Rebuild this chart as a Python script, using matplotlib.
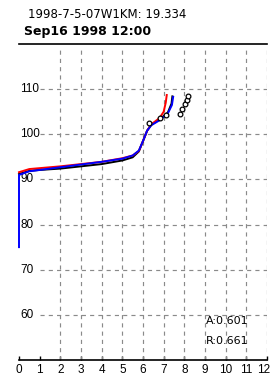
import matplotlib
matplotlib.use("Agg")
import matplotlib.pyplot as plt
import matplotlib.transforms as mtransforms

plt.rcParams['font.family'] = ['Liberation Sans', 'DejaVu Sans']

title1 = "1998-7-5-07W1KM: 19.334"
title2 = "Sep16 1998 12:00"
x_ticks = list(range(0, 13))
y_labels = [60, 70, 80, 90, 100, 110]

black_x = [0.0, 0.5, 1.0, 2.0, 3.0, 4.0, 5.0, 5.5, 5.8, 6.0, 6.2, 6.4, 6.8, 7.2, 7.38, 7.42]
black_y = [91.2, 91.9, 92.1, 92.4, 92.9, 93.4, 94.2, 94.9, 96.2, 98.5, 100.8, 102.1, 103.3, 104.8, 106.8, 108.4]
red_x = [0.0, 0.5, 1.0, 2.0, 3.0, 4.0, 5.0, 5.5, 5.8, 6.0, 6.2, 6.4, 6.8, 7.0, 7.1, 7.15]
red_y = [91.6, 92.3, 92.5, 92.9, 93.4, 93.9, 94.7, 95.3, 96.3, 98.5, 100.8, 102.2, 103.6, 105.0, 107.0, 108.7]
blue_x = [0.0, 0.0, 0.5, 1.0, 2.0, 3.0, 4.0, 5.0, 5.5, 5.8, 6.0, 6.2, 6.4, 6.8, 7.2, 7.4, 7.46]
blue_y = [75.0, 91.0, 91.8, 92.1, 92.7, 93.3, 93.9, 94.6, 95.3, 96.4, 98.5, 100.8, 102.0, 103.1, 104.6, 106.5, 108.3]
obs1_x = [6.3, 6.8, 7.1]
obs1_y = [102.4, 103.6, 104.3]
obs2_x = [7.78, 7.91, 8.03, 8.13, 8.18]
obs2_y = [104.5, 105.7, 106.8, 107.7, 108.4]
stats = ["A:0.601", "R:0.661"]

fig = plt.figure(figsize=(2.71, 3.81), dpi=100)
ax = fig.add_axes([19/271, 1-360/381, 248/271, 316/381])
ax.set_xlim(0, 12)
ax.set_ylim(50, 120)

grid_kw = dict(color='#8a8a8a', linewidth=0.85, linestyles=(0, (3.5, 3.5)))
ax.hlines(y_labels, 1.0, 12, **grid_kw)
ax.vlines(x_ticks[2:], 50, 119, **grid_kw)

for yv in y_labels:
    ax.text(0.05, yv, str(yv), fontsize=8.5, va='center', ha='left', color='black')

ax.plot(black_x, black_y, color='black', lw=1.4, clip_on=False)
ax.plot(red_x, red_y, color='red', lw=1.4, clip_on=False)
ax.plot(blue_x, blue_y, color='blue', lw=1.4, clip_on=False, zorder=3)
ax.plot(obs1_x + obs2_x, obs1_y + obs2_y, ls='none', marker='o', ms=3.4,
        mfc='white', mec='black', mew=0.9, zorder=4)

ax.text(9.05, 58.6, stats[0], fontsize=8, va='center', ha='left', family=['DejaVu Sans'])
ax.text(9.05, 54.2, stats[1], fontsize=8, va='center', ha='left', family=['DejaVu Sans'])

for s in ['left', 'right']:
    ax.spines[s].set_visible(False)
ax.spines['top'].set_linewidth(1.2)
ax.spines['bottom'].set_linewidth(1.2)
ax.set_yticks([])
ax.set_xticks(x_ticks)
ax.tick_params(axis='x', direction='in', length=3, width=1, pad=3, labelsize=8.5)
last = ax.get_xticklabels()[-1]
last.set_ha('right')
last.set_transform(last.get_transform() + mtransforms.ScaledTranslation(3/100, 0, fig.dpi_scale_trans))

fig.text(28/271, 1-15/381, title1, fontsize=8.5, va='center', ha='left', family=['DejaVu Sans'])
fig.text(24/271, 1-32/381, title2, fontsize=9, va='center', ha='left', fontweight='bold', family=['DejaVu Sans'])

fig.savefig("out.png", dpi=100)
